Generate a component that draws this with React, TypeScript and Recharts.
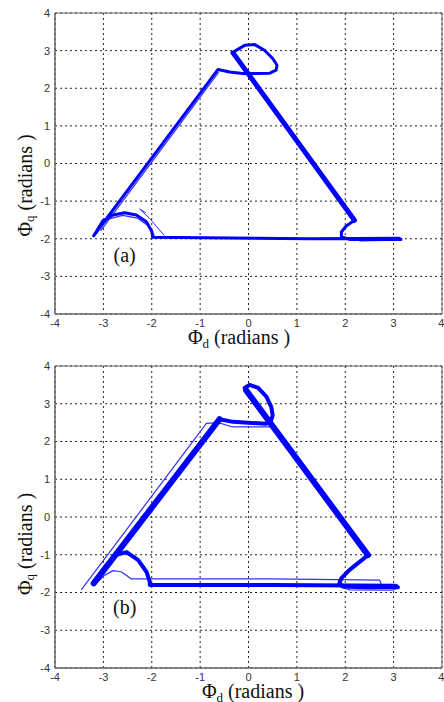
import { LineChart, Line, XAxis, YAxis, CartesianGrid, ReferenceArea, ReferenceDot } from 'recharts'

type Pt = [number, number] // [phi_d, phi_q] in radians

const ticks = [-4, -3, -2, -1, 0, 1, 2, 3, 4]

// ---- trajectory (a) ----
const mainA: Pt[] = [
  [-3.2, -1.92], [-0.63, 2.5], [-0.56, 2.48], [-0.39, 2.43], [-0.12, 2.39], [0.44, 2.4],
  [0.57, 2.48], [0.59, 2.61], [0.5, 2.79], [0.33, 3.01], [0.13, 3.16], [-0.08, 3.14],
  [-0.29, 2.98], [-0.32, 2.94], [2.19, -1.51], [2.02, -1.66], [1.92, -1.82], [1.92, -1.95],
  [2.1, -2.02], [3.15, -2.02], [3.12, -1.99], [1.26, -2.0], [-1.98, -1.96], [-2.0, -1.8],
  [-2.11, -1.55], [-2.32, -1.37], [-2.56, -1.31], [-2.8, -1.37], [-3.01, -1.52], [-3.2, -1.92],
]
const descA: Pt[] = [[-0.32, 2.94], [2.19, -1.51]]
const riseA: Pt[] = [[-3.05, -1.78], [-0.62, 2.42]]
const arcA: Pt[] = [[-3.12, -1.72], [-2.9, -1.48], [-2.6, -1.38], [-2.3, -1.45], [-2.08, -1.65], [-1.95, -1.9]]
const strayA: Pt[] = [[-2.13, -1.3], [-2.25, -1.21], [-2.05, -1.45], [-1.75, -1.9]]
const tailA: Pt[] = [[2.3, -2.06], [3.1, -2.04], [2.6, -1.99]]

// ---- trajectory (b) ----
const mainB: Pt[] = [
  [-3.2, -1.76], [-0.6, 2.59], [-0.32, 2.52], [0.37, 2.47], [0.47, 2.57], [0.5, 2.7],
  [0.47, 2.92], [0.37, 3.19], [0.2, 3.42], [0.02, 3.5], [-0.08, 3.42], [-0.05, 3.36],
  [2.47, -1.01], [2.09, -1.4], [1.92, -1.62], [1.88, -1.75], [1.95, -1.84], [2.4, -1.86],
  [3.09, -1.86], [3.05, -1.82], [0.5, -1.8], [-2.04, -1.8], [-2.04, -1.72], [-2.11, -1.45],
  [-2.28, -1.14], [-2.52, -0.93], [-2.73, -1.0], [-2.95, -1.3], [-3.12, -1.6], [-3.2, -1.76],
]
const riseB: Pt[] = [[-3.2, -1.76], [-0.6, 2.59]]
const descB: Pt[] = [[-0.05, 3.36], [2.47, -1.01]]
const outerB: Pt[] = [[-3.45, -1.92], [-0.87, 2.48], [-0.62, 2.5], [-0.35, 2.39], [0.45, 2.39]]
const lowerB: Pt[] = [
  [-3.1, -1.7], [-2.97, -1.54], [-2.8, -1.42], [-2.63, -1.45], [-2.42, -1.64],
  [0.5, -1.64], [2.71, -1.67], [2.75, -1.8],
]
const bottomB: Pt[] = [[1.9, -1.85], [2.1, -1.93], [2.98, -1.94], [3.08, -1.88]]
const kinkB: Pt[] = [[2.44, -1.06], [2.03, -1.44], [1.9, -1.66], [1.93, -1.8]]

const BLUE = '#0000ff'
const THIN = '#3030ff'

type Trace = { pts: Pt[]; width: number; color: string }

const tracesA: Trace[] = [
  { pts: riseA, width: 1.2, color: THIN },
  { pts: arcA, width: 1.2, color: THIN },
  { pts: strayA, width: 1, color: THIN },
  { pts: tailA, width: 1, color: THIN },
  { pts: mainA, width: 3, color: BLUE },
  { pts: descA, width: 5, color: BLUE },
]

const tracesB: Trace[] = [
  { pts: outerB, width: 1.2, color: THIN },
  { pts: lowerB, width: 1.2, color: THIN },
  { pts: bottomB, width: 1.2, color: THIN },
  { pts: kinkB, width: 1.2, color: THIN },
  { pts: mainB, width: 4, color: BLUE },
  { pts: riseB, width: 6, color: BLUE },
  { pts: descB, width: 6, color: BLUE },
]

const toRows = (pts: Pt[]) => pts.map(([d, q]) => ({ d, q }))

const serif = '"Liberation Serif", "Times New Roman", serif'
const tickStyle = { fill: '#333', fontSize: 11, fontFamily: '"Liberation Sans", Arial, sans-serif' }

function XTitle({ viewBox, cx }: any) {
  const y = viewBox.y + 30
  return (
    <text x={cx} y={y} textAnchor="middle" fontFamily={serif} fontSize={20} fill="#111">
      Φ<tspan dy={4} fontSize={13}>d</tspan>
      <tspan dy={-4}> (radians )</tspan>
    </text>
  )
}

function YTitle({ viewBox, shift }: any) {
  const cx = 25
  const cy = viewBox.y + viewBox.height / 2 + shift
  return (
    <text
      x={cx}
      y={cy}
      transform={`rotate(-90 ${cx} ${cy})`}
      textAnchor="middle"
      dominantBaseline="central"
      fontFamily={serif}
      fontSize={20}
      fill="#111"
    >
      Φ<tspan dy={4} fontSize={13}>q</tspan>
      <tspan dy={-4}> (radians )</tspan>
    </text>
  )
}

function PhasePlot({
  traces,
  tag,
  tagAt,
  top,
  bottom,
  xTitleX,
  yShift,
}: {
  traces: Trace[]
  tag: string
  tagAt: Pt
  top: number
  bottom: number
  xTitleX: number
  yShift: number
}) {
  return (
    <LineChart width={444} height={351} margin={{ top, right: 2, left: 0, bottom }}>
      <CartesianGrid stroke="#222" strokeDasharray="2 3" />
      <XAxis
        type="number"
        dataKey="d"
        domain={[-4, 4]}
        ticks={ticks}
        allowDataOverflow
        height={20}
        tickSize={0}
        tickMargin={5}
        tick={tickStyle}
        axisLine={{ stroke: '#666' }}
        tickLine={false}
        label={{ content: (p: any) => <XTitle {...p} cx={xTitleX} /> }}
      />
      <YAxis
        type="number"
        dataKey="q"
        domain={[-4, 4]}
        ticks={ticks}
        allowDataOverflow
        width={55}
        tickSize={0}
        tickMargin={5}
        tick={tickStyle}
        axisLine={{ stroke: '#666' }}
        tickLine={false}
        label={{ content: (p: any) => <YTitle {...p} shift={yShift} /> }}
      />
      <ReferenceArea x1={-4} x2={4} y1={-4} y2={4} fill="none" stroke="#666" fillOpacity={0} />
      {traces.map((t, i) => (
        <Line
          key={i}
          data={toRows(t.pts)}
          dataKey="q"
          type="linear"
          stroke={t.color}
          strokeWidth={t.width}
          strokeLinejoin="round"
          strokeLinecap="round"
          dot={false}
          activeDot={false}
          isAnimationActive={false}
        />
      ))}
      <ReferenceDot
        x={tagAt[0]}
        y={tagAt[1]}
        r={0}
        fill="none"
        stroke="none"
        label={{ value: tag, position: 'center', fontSize: 20, fontFamily: serif, fill: '#111' }}
      />
    </LineChart>
  )
}

export default function App() {
  return (
    <div style={{ position: 'absolute', top: 0, left: 0, width: 444, height: 702, background: '#fff' }}>
      <PhasePlot traces={tracesA} tag="(a)" tagAt={[-2.56, -2.42]} top={13} bottom={17} xTitleX={239} yShift={22} />
      <PhasePlot traces={tracesB} tag="(b)" tagAt={[-2.56, -2.37]} top={15} bottom={14} xTitleX={253} yShift={27} />
    </div>
  )
}
